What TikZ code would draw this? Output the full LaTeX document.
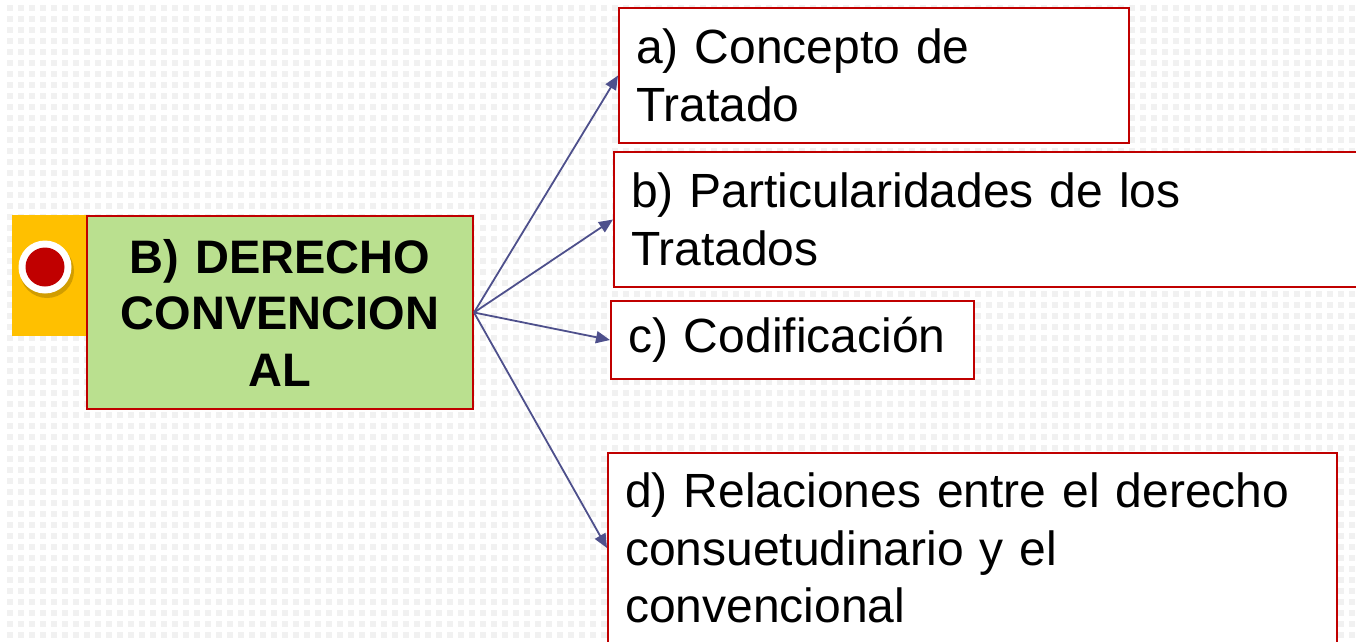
\documentclass[tikz,border=0pt]{standalone}
\usepackage{fontspec}
\setmainfont{Liberation Sans}
\usetikzlibrary{arrows.meta}
\definecolor{bred}{RGB}{192,0,0}
\definecolor{bgreen}{RGB}{186,224,143}
\definecolor{byellow}{RGB}{255,192,0}
\definecolor{barrow}{RGB}{78,80,140}
\definecolor{dotc}{RGB}{241,241,241}
\begin{document}
\begin{tikzpicture}[x=1pt,y=-1pt,
  box/.style={draw=bred, line width=2pt, fill=white, inner xsep=17pt, inner ysep=0pt,
    align=left, anchor=north west, font=\fontsize{48}{57.6}\selectfont},
  mainbox/.style={draw=bred, line width=2pt, fill=bgreen, inner xsep=6pt, inner ysep=0pt,
    align=center, anchor=north west, font=\fontsize{47}{56.5}\selectfont\bfseries},
  arr/.style={draw=barrow, line width=1.8pt, -{Triangle[length=14pt,width=12pt]}}
]
\useasboundingbox (0,0) rectangle (1356,641);
\clip (0,0) rectangle (1356,641);
\fill[white] (0,0) rectangle (1356,641);
\foreach \i in {0,...,123} {
  \foreach \j in {0,...,58} {
    \fill[dotc] (7+11*\i,5+11*\j) rectangle ++(6,6);
  }
}
% yellow tab and bullet
\fill[byellow] (12,215) rectangle (86,336);
\fill[black,opacity=0.18] (47,271) circle (27);
\fill[white] (45,267) circle (26.5);
\fill[bred] (45,267) circle (19.5);
% main box
\node[mainbox, minimum width=386pt, minimum height=193pt, text width=374pt] (main) at (86,215)
  {B) DERECHO\\CONVENCION\\AL};
% targets
\node[box, minimum height=135pt, text width=476pt] (a) at (618,7) {a) Concepto de\\Tratado};
\node[box, minimum height=135pt, text width=723pt] (b) at (613,151) {b) Particularidades de los\\Tratados};
\node[box, minimum height=78pt, text width=329pt] (c) at (610,300) {c) Codificación};
\node[box, minimum height=190pt, text width=695pt] (d) at (607,452) {d) Relaciones entre el derecho\\consuetudinario y el\\convencional};
% arrows
\draw[arr] (main.east) -- (a.west);
\draw[arr] (main.east) -- (b.west);
\draw[arr] (main.east) -- (c.west);
\draw[arr] (main.east) -- (d.west);
\end{tikzpicture}
\end{document}
